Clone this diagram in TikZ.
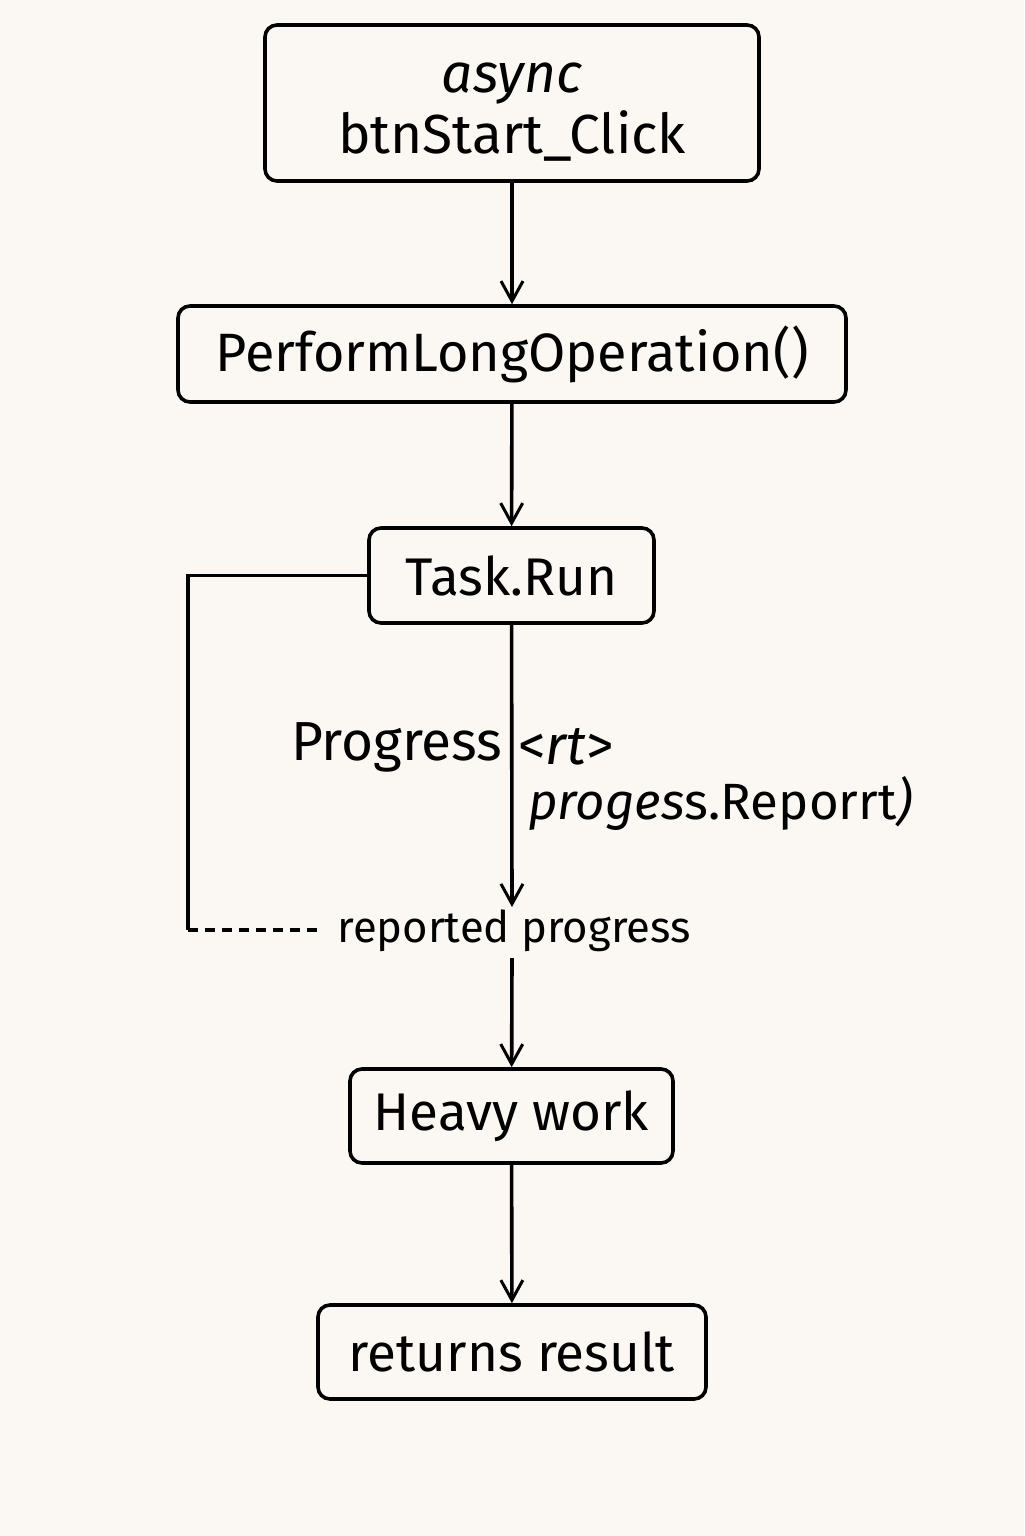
\documentclass[tikz,border=0pt]{standalone}
\usepackage{fontspec}
\setmainfont{Fira Sans}
\usetikzlibrary{arrows.meta}
\definecolor{bg}{HTML}{FBF8F3}
\tikzset{
  x=0.5pt, y=-0.5pt,
  box/.style={draw, line width=1.8pt, rounded corners=6pt, inner sep=0pt, font=\fontsize{26.5}{31}\selectfont},
  conn/.style={line width=1.8pt, -{Straight Barb[length=10pt,width=11pt,line width=1.5pt]}},
  plain/.style={line width=1.8pt},
  lbl/.style={inner sep=0pt, font=\fontsize{27.5}{31}\selectfont},
}
\begin{document}
\begin{tikzpicture}
\fill[bg] (0,0) rectangle (1024,1536);
\useasboundingbox (0,0) rectangle (1024,1536);
\node[box, minimum width=247pt, minimum height=78pt, align=center, font=\fontsize{27.5}{30.5}\selectfont] (start) at (512,103) {\rule{0pt}{24pt}\textit{async}\\btnStart\_Click};
\node[box, minimum width=334pt, minimum height=48pt, font=\fontsize{27}{31}\selectfont] (plo) at (512,354) {PerformLongOperation()};
\node[box, minimum width=142.5pt, minimum height=47.5pt] (task) at (511.5,575.5) {Task.Run};
\node[box, minimum width=161.5pt, minimum height=47pt] (heavy) at (511.5,1116) {Heavy work};
\node[box, minimum width=194pt, minimum height=47pt] (ret) at (512,1352) {returns result};

\node[lbl, anchor=east] (prog) at (503,747) {Progress};
\node[lbl, anchor=west] (rt) at (518,747) {<\textit{rt}>};
\node[lbl, anchor=west, font=\fontsize{25.5}{30}\selectfont] (rep) at (528,804) {\textit{proges}s.Reporrt\textit{)}};
\node[lbl, font=\fontsize{21.8}{26}\selectfont] (reported) at (514,931) {reported progress};
\coordinate (tip) at (512,907);
\coordinate (below) at (512,958);
\coordinate (lt) at (188,575.5);
\coordinate (lb) at (188,930);
\coordinate (de) at (320,930);

\draw[conn] (start) -- (plo);
\draw[conn] (plo) -- (task);
\draw[conn] (task) -- (tip);
\draw[conn] (below) -- (heavy);
\draw[conn] (heavy) -- (ret);
\draw[plain] (task.west) -- (lt) -- (lb);
\draw[line width=1.8pt, dash pattern=on 5pt off 3.5pt] (lb) -- (de);
\end{tikzpicture}
\end{document}
